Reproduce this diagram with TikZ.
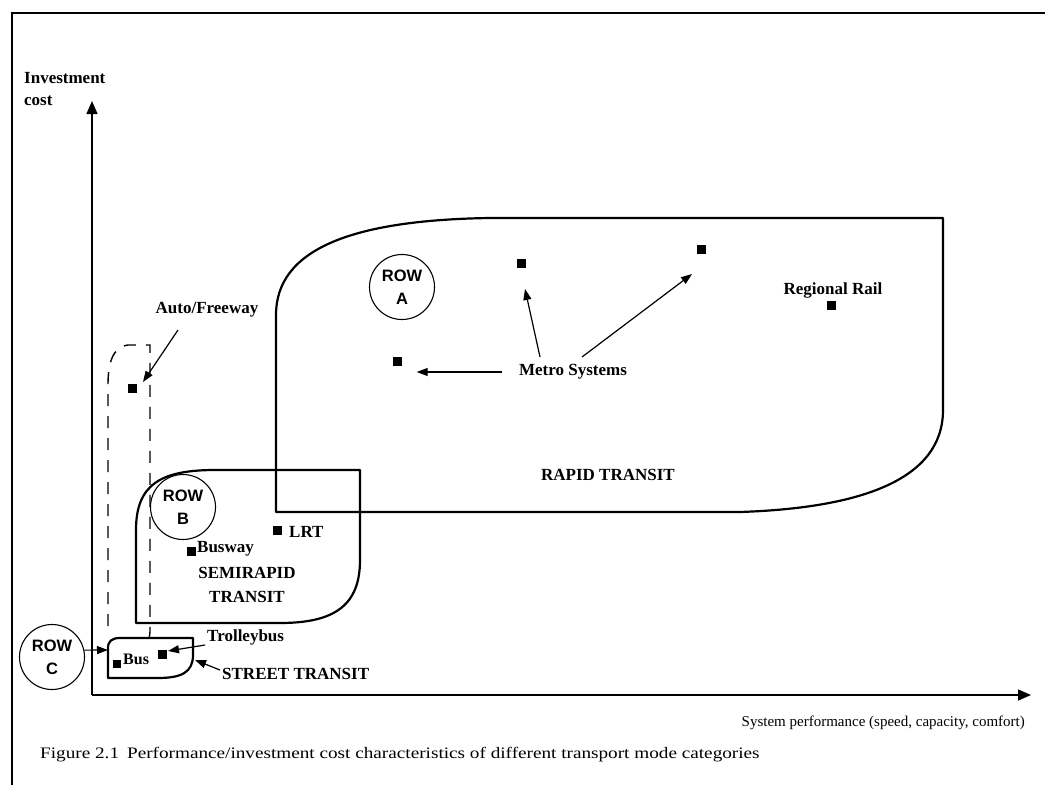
\documentclass[tikz,border=0pt]{standalone}
\usepackage{fontspec}
\setmainfont{Liberation Serif}
\newfontfamily\rowfont{Liberation Sans}
\newfontfamily\capfont[FakeStretch=1.2]{Liberation Serif}
\usetikzlibrary{arrows.meta,calc}

\begin{document}
\begin{tikzpicture}[x=1pt,y=-1pt,
  region/.style={line width=2.2pt, line join=round},
  autoband/.style={line width=1.4pt, dash pattern=on 12pt off 10pt},
  axisline/.style={line width=1.5pt, -{Triangle[length=13pt,width=11pt]}},
  arr/.style={line width=1.2pt, -{Triangle[length=11pt,width=8pt]}},
  rowcirc/.style={circle, draw, line width=1.1pt, minimum size=65pt, inner sep=0pt,
    align=center, font=\rowfont\bfseries\fontsize{16.5}{23}\selectfont},
  sq/.style={rectangle, fill=black, minimum size=9pt, inner sep=0pt},
  lbl/.style={inner sep=0pt, font=\bfseries\fontsize{17}{24}\selectfont},
]
\useasboundingbox (0,0) rectangle (1045,785);

% page frame
\draw[line width=2pt] (12,785) -- (12,12);
\draw[line width=2.6pt] (11,13) -- (1045,13);

% axes
\coordinate (origin) at (92,695);
\coordinate (ytip) at (92,101);
\coordinate (xtip) at (1031,695);
\draw[axisline] (origin) -- (ytip);
\draw[axisline] (origin) -- (xtip);
\node[anchor=north west, inner sep=0pt, align=left,
      font=\bfseries\fontsize{17}{22}\selectfont] (ylab) at (24,72) {Investment\\cost};
\node[anchor=east, inner sep=0pt, font=\fontsize{15}{18}\selectfont] (xlab) at (1025,723)
  {System performance (speed, capacity, comfort)};
\node[anchor=west, inner sep=0pt, font=\capfont\fontsize{16}{18}\selectfont] (caption) at (40,755)
  {Figure 2.1\enspace Performance/investment cost characteristics of different transport mode categories};

% rapid transit region
\draw[region] (276,512) -- (276,315) .. controls (276,250) and (350,220) .. (490,218)
  -- (943,218) -- (943,410) .. controls (943,480) and (860,508) .. (740,512) -- cycle;

% semirapid transit region
\draw[region] (136,623) -- (136,530) .. controls (136,485) and (160,470) .. (215,470)
  -- (360,470) -- (360,560) .. controls (360,605) and (335,623) .. (280,623) -- cycle;

% street transit box
\draw[region] (108,678) -- (108,648) .. controls (108,641) and (112,638) .. (120,638)
  -- (193,638) -- (193,655) .. controls (193,672) and (182,678) .. (158,678) -- cycle;
\coordinate (streetW) at (108,650);
\coordinate (streetE) at (195,660);

% auto/freeway band
\draw[autoband] (108,626) -- (108,385) .. controls (108,362) and (113,347) .. (128,345)
  -- (150,345) -- (150,632) -- (148,648);

% right-of-way circles
\node[rowcirc] (rowa) at (402,287) {ROW\\A};
\node[rowcirc] (rowb) at (183,507) {ROW\\B};
\node[rowcirc] (rowc) at (52,657) {ROW\\C};

% mode markers
\node[sq] (autosq) at (132,388) {};
\node[sq] (m1) at (397,361) {};
\node[sq] (m2) at (521,263) {};
\node[sq] (m3) at (701,249) {};
\node[sq] (rr) at (831,305) {};
\node[sq] (lrtsq) at (277,530) {};
\node[sq] (bwsq) at (191,551) {};
\node[sq] (tsq) at (162,654) {};
\node[sq, minimum size=8pt] (bussq) at (117,664) {};

% labels
\node[lbl] (metro) at (573,372) {Metro Systems};
\node[lbl] (rapid) at (608,475) {RAPID TRANSIT};
\node[lbl] (rrlbl) at (833,290) {Regional Rail};
\node[lbl] (autolbl) at (207,310) {Auto/Freeway};
\node[lbl, anchor=west] (lrt) at (289,532) {LRT};
\node[lbl, anchor=west] (busway) at (197,549) {Busway};
\node[lbl, align=center] (semi) at (247,585) {SEMIRAPID\\TRANSIT};
\node[lbl, anchor=west] (trolley) at (207,637) {Trolleybus};
\node[lbl, anchor=west, font=\bfseries\fontsize{16}{20}\selectfont] (bus) at (123,659) {Bus};
\node[lbl, anchor=west] (streetlbl) at (222,674) {STREET TRANSIT};

% pointers
\draw[arr, shorten <=17pt, shorten >=15pt] (metro.west) -- (m1.east |- metro.west);
\draw[arr] ($(metro.center)+(-33,-15)$) -- ($(m2)+(4,26)$);
\draw[arr] ($(metro.center)+(9,-15)$) -- ($(m3)+(-9,25)$);
\draw[arr] ($(autolbl.center)+(-29,20)$) -- ($(autosq)+(11,-6)$);
\draw[arr] ($(trolley.west)+(-2,8)$) -- ($(tsq)+(6,-3)$);
\draw[arr] ($(streetlbl.west)+(-2,-4)$) -- (streetE);
\draw[arr] (rowc.12) -- (streetW);
\end{tikzpicture}
\end{document}
